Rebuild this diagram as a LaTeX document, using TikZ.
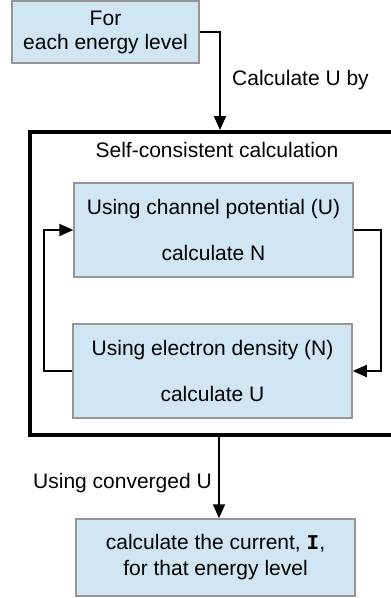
\documentclass[tikz,border=0pt]{standalone}
\usepackage{fontspec}
\setmainfont{Liberation Sans}
\setmonofont{Liberation Mono}
\usetikzlibrary{arrows.meta}
\definecolor{boxfill}{HTML}{D0E6F3}
\definecolor{boxline}{HTML}{969696}
\begin{document}
\begin{tikzpicture}[x=1pt,y=-1pt,
  every node/.style={font=\fontsize{21}{24}\selectfont, inner sep=0pt},
  stepbox/.style={draw=boxline, fill=boxfill, line width=1.5pt, align=center},
  conn/.style={line width=2pt, -{Triangle[length=14pt,width=12pt]}}]
\useasboundingbox (0,0) rectangle (391,598);
\clip (0,0) rectangle (391,598);
% nodes
\node[stepbox, minimum width=187, minimum height=62] (top) at (105.5,32) {For\\each energy level};
\node[draw, line width=3.5pt, minimum width=380, minimum height=303, anchor=north west] (sc) at (28,130) {};
\node (title) at (217,150) {Self-consistent calculation};
\node[stepbox, minimum width=279, minimum height=94] (b1) at (213.5,230) {Using channel potential (U)\\[22pt]calculate N};
\node[stepbox, minimum width=279, minimum height=94] (b2) at (212.5,371) {Using electron density (N)\\[22pt]calculate U};
\node[stepbox, minimum width=279, minimum height=77, font=\fontsize{21}{26}\selectfont] (bot) at (215.5,557.5) {calculate the current, \texttt{\textbf{I}},\\for that energy level};
\node[anchor=west] (lbl1) at (232,80) {Calculate U by};
\node[anchor=east] (lbl2) at (212,483) {Using converged U};
% connectors
\coordinate (a1) at (220,130);
\draw[conn] (top.east) -| (a1);
\draw[conn] (b1.east) -- ++(27,0) |- (b2.east);
\draw[conn] (b2.west) -- ++(-28,0) |- (b1.west);
\coordinate (a2) at (219,433);
\draw[conn] (a2) -- (a2 |- bot.north);
\end{tikzpicture}
\end{document}
